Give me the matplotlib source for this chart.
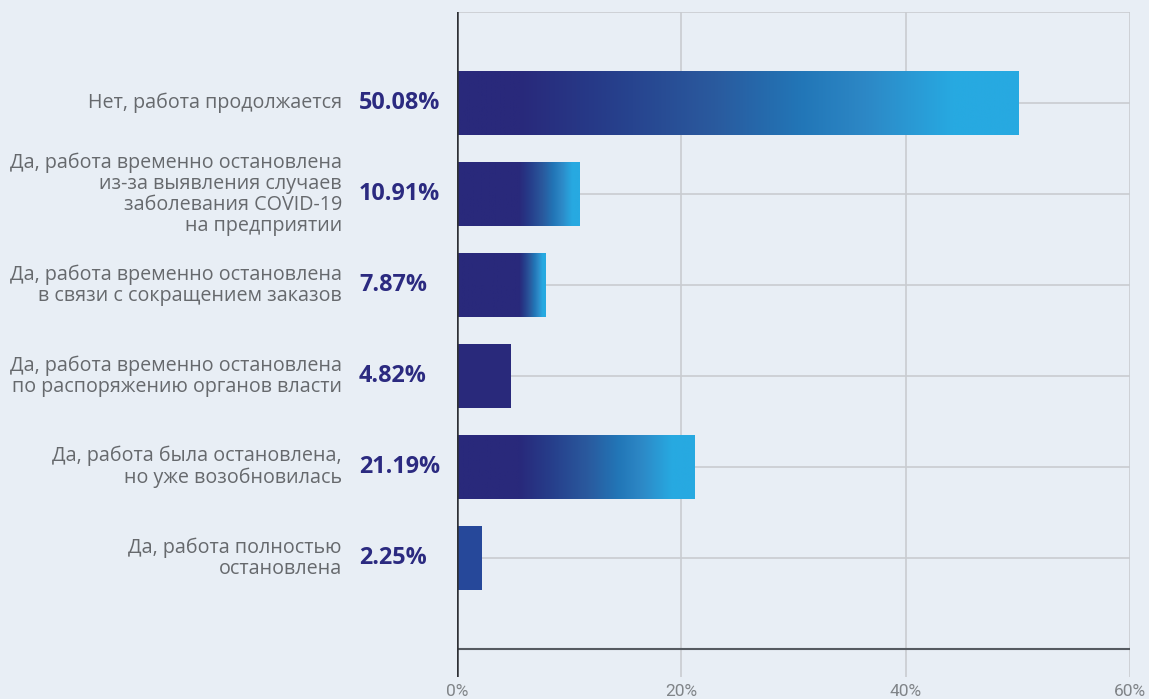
import numpy as np
import matplotlib
matplotlib.use("Agg")
import matplotlib.pyplot as plt
from matplotlib.colors import LinearSegmentedColormap
from matplotlib.ticker import FuncFormatter

categories = [
    "Нет, работа продолжается",
    "Да, работа временно остановлена\nиз-за выявления случаев\nзаболевания COVID-19\nна предприятии",
    "Да, работа временно остановлена\nв связи с сокращением заказов",
    "Да, работа временно остановлена\nпо распоряжению органов власти",
    "Да, работа была остановлена,\nно уже возобновилась",
    "Да, работа полностью\nостановлена",
]
values = [50.08, 10.91, 7.87, 4.82, 21.19, 2.25]
value_labels = ["50.08%", "10.91%", "7.87%", "4.82%", "21.19%", "2.25%"]
x_ticks = [0, 20, 40, 60]

# style
BG = "#e8eef5"
DARK = "#29297b"
cmap = LinearSegmentedColormap.from_list(
    "grad",
    [(0.0, "#29297b"), (0.2, "#263d8a"), (0.45, "#2a5a9e"),
     (0.65, "#2276b7"), (0.8, "#2d88c6"), (1.0, "#27a9e1")])
solid_override = {5: "#26489a"}
DARK_END = 5.5
FRAC = 0.87
BAR_H = 0.70

W, H = 1149, 699
fig = plt.figure(figsize=(W / 100, H / 100), dpi=100, facecolor=BG)
ax = fig.add_axes([457 / W, 1 - 677 / H, (1130 - 457) / W, (677 - 12) / H])
ax.set_facecolor(BG)

ax.set_xlim(0, 60)
ax.set_ylim(6.31, -1)

# grid
for yy in range(-1, 6):
    ax.axhline(yy, color="#c9ccd0", lw=1.2, zorder=1)
ax.axhline(6, color="#555a60", lw=1.5, zorder=3)
for xx in x_ticks[1:]:
    ax.axvline(xx, color="#c9ccd0", lw=1.2, zorder=1)
ax.axvline(0, color="#2e3035", lw=1.8, zorder=4)

xs = np.linspace(0, 60, 1200)
for i, v in enumerate(values):
    bars = ax.barh(i, v, height=BAR_H, color=DARK, zorder=2, linewidth=0)
    patch = bars[0]
    if i in solid_override:
        patch.set_facecolor(solid_override[i])
        continue
    light_at = DARK_END + FRAC * (v - DARK_END)
    if v <= DARK_END:
        continue
    t = np.clip((xs - DARK_END) / (light_at - DARK_END), 0, 1)
    img = ax.imshow(t[np.newaxis, :], cmap=cmap, vmin=0, vmax=1, aspect="auto",
                    extent=[0, 60, i + BAR_H / 2, i - BAR_H / 2], zorder=2.5,
                    interpolation="bilinear")
    img.set_clip_path(patch)

ax.set_xlim(0, 60)
ax.set_ylim(6.31, -1)

for s in ax.spines.values():
    s.set_visible(False)

ax.set_yticks([])
ax.set_xticks(x_ticks)
ax.xaxis.set_major_formatter(FuncFormatter(lambda x, p: f"{int(x)}%"))
ax.tick_params(axis="x", length=0, pad=5, labelsize=12.5, labelcolor="#808488")
for lab in ax.get_xticklabels():
    lab.set_fontfamily("Roboto")

tr = ax.get_yaxis_transform()
for i, (cat, vl) in enumerate(zip(categories, value_labels)):
    ax.text((342 - 457) / 673, i, cat, transform=tr, ha="right", va="center",
            fontsize=14.2, color="#66696d", family="Open Sans", linespacing=1.07)
    ax.text((359 - 457) / 673, i, vl, transform=tr, ha="left", va="center",
            fontsize=16.8, color="#2b2a80", family="Open Sans", fontweight="bold")

fig.savefig("out.png", dpi=100, facecolor=BG)
